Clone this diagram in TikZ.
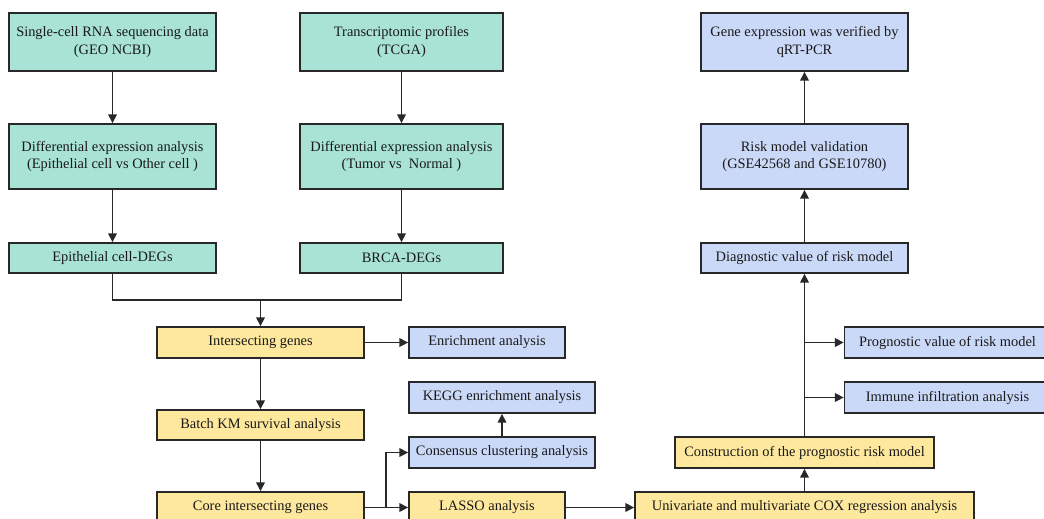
\documentclass[tikz,border=0pt]{standalone}
\usepackage{fontspec}
\setmainfont{Liberation Serif}
\usepackage{xcolor}
\usetikzlibrary{arrows.meta,positioning,calc}
\definecolor{tealbox}{RGB}{168,227,214}
\definecolor{yelbox}{RGB}{254,232,158}
\definecolor{bluebox}{RGB}{203,217,248}
\definecolor{edgec}{RGB}{40,40,40}

\begin{document}
\begin{tikzpicture}[x=0.02cm,y=-0.02cm,>={Triangle[length=5pt,width=4.8pt]},
  every node/.style={font=\fontsize{8.2}{9.8}\selectfont,text=black!90},
  box/.style={draw=edgec,line width=0.9pt,align=center,inner sep=1pt},
  geo/.style={box,fill=tealbox,minimum width=4.14cm},
  core/.style={box,fill=yelbox,minimum height=0.62cm},
  ana/.style={box,fill=bluebox,minimum height=0.62cm},
  link/.style={draw=edgec,line width=1pt}]

  \useasboundingbox (0,0) rectangle (1044,518);
  \clip (0,0) rectangle (1044,518);
  \fill[white] (0,0) rectangle (1044,518);

  % single-cell branch
  \node[geo,minimum height=1.16cm] (sc)  at (112.5,42)  {Single-cell RNA sequencing data\\(GEO NCBI)};
  \node[geo,minimum height=1.3cm]  (scd) at (112.5,156.5) {Differential expression analysis\\(Epithelial cell vs Other cell )};
  \node[geo,minimum height=0.6cm]  (epi) at (112.5,258) {Epithelial cell-DEGs};

  % TCGA branch
  \node[geo,minimum width=4.06cm,minimum height=1.16cm] (tc)  at (401.5,42)  {Transcriptomic profiles\\(TCGA)};
  \node[geo,minimum width=4.06cm,minimum height=1.3cm]  (tcd) at (401.5,156.5) {Differential expression analysis\\(Tumor vs \ Normal )};
  \node[geo,minimum width=4.06cm,minimum height=0.6cm]  (brca) at (401.5,258) {BRCA-DEGs};

  % gene screening
  \node[core,minimum width=4.14cm] (inter) at (260.5,342.5) {Intersecting genes};
  \node[core,minimum width=4.14cm,minimum height=0.6cm] (km) at (260.5,425) {Batch KM survival analysis};
  \node[core,minimum width=4.14cm] (cig) at (260.5,507.5) {Core intersecting genes};
  \node[ana,minimum width=3.12cm] (enr) at (487,342.5) {Enrichment analysis};
  \node[ana,minimum width=3.72cm] (kegg) at (502,397.5) {KEGG enrichment analysis};
  \node[ana,minimum width=3.72cm] (cons) at (502,452.5) {Consensus clustering analysis};
  \node[core,minimum width=3.12cm] (lasso) at (487,507.5) {LASSO analysis};

  % risk model
  \node[core,minimum width=6.78cm] (cox) at (804.5,507.5) {Univariate and multivariate COX regression analysis};
  \node[core,minimum width=5.18cm] (risk) at (804.5,452.5) {Construction of the prognostic risk model};
  \node[ana,minimum width=4.12cm] (prog) at (947.5,342.5) {Prognostic value of risk model};
  \node[ana,minimum width=4.12cm] (imm) at (947.5,397.5) {Immune infiltration analysis};
  \node[ana,minimum width=4.14cm,minimum height=0.6cm] (diag) at (804.5,258) {Diagnostic value of risk model};
  \node[ana,minimum width=4.14cm,minimum height=1.3cm] (valid) at (804.5,156.5) {Risk model validation\\(GSE42568 and GSE10780)};
  \node[ana,minimum width=4.14cm,minimum height=1.16cm] (qpcr) at (804.5,42) {Gene expression was verified by\\qRT-PCR};

  \coordinate (mrg) at (260.5,300);
  \coordinate (spl) at (386,507.5);
  \coordinate (bp) at (804.5,342.5);
  \coordinate (bi) at (804.5,397.5);

  \draw[link,->] (sc) -- (scd);
  \draw[link,->] (scd) -- (epi);
  \draw[link,->] (tc) -- (tcd);
  \draw[link,->] (tcd) -- (brca);
  \draw[link] (epi.south) |- (mrg) -| (brca.south);
  \draw[link,->] (mrg) -- (inter);
  \draw[link,->] (inter) -- (enr);
  \draw[link,->] (inter) -- (km);
  \draw[link,->] (km) -- (cig);
  \draw[link] (cig) -- (spl);
  \draw[link,->] (spl) |- (cons);
  \draw[link,->] (spl) -- (lasso);
  \draw[link,->] (cons) -- (kegg);
  \draw[link,->] (lasso) -- (cox);
  \draw[link,->] (cox) -- (risk);
  \draw[link,->] (risk) -- (diag);
  \draw[link,->] (bp) -- (prog);
  \draw[link,->] (bi) -- (imm);
  \draw[link,->] (diag) -- (valid);
  \draw[link,->] (valid) -- (qpcr);
\end{tikzpicture}
\end{document}
